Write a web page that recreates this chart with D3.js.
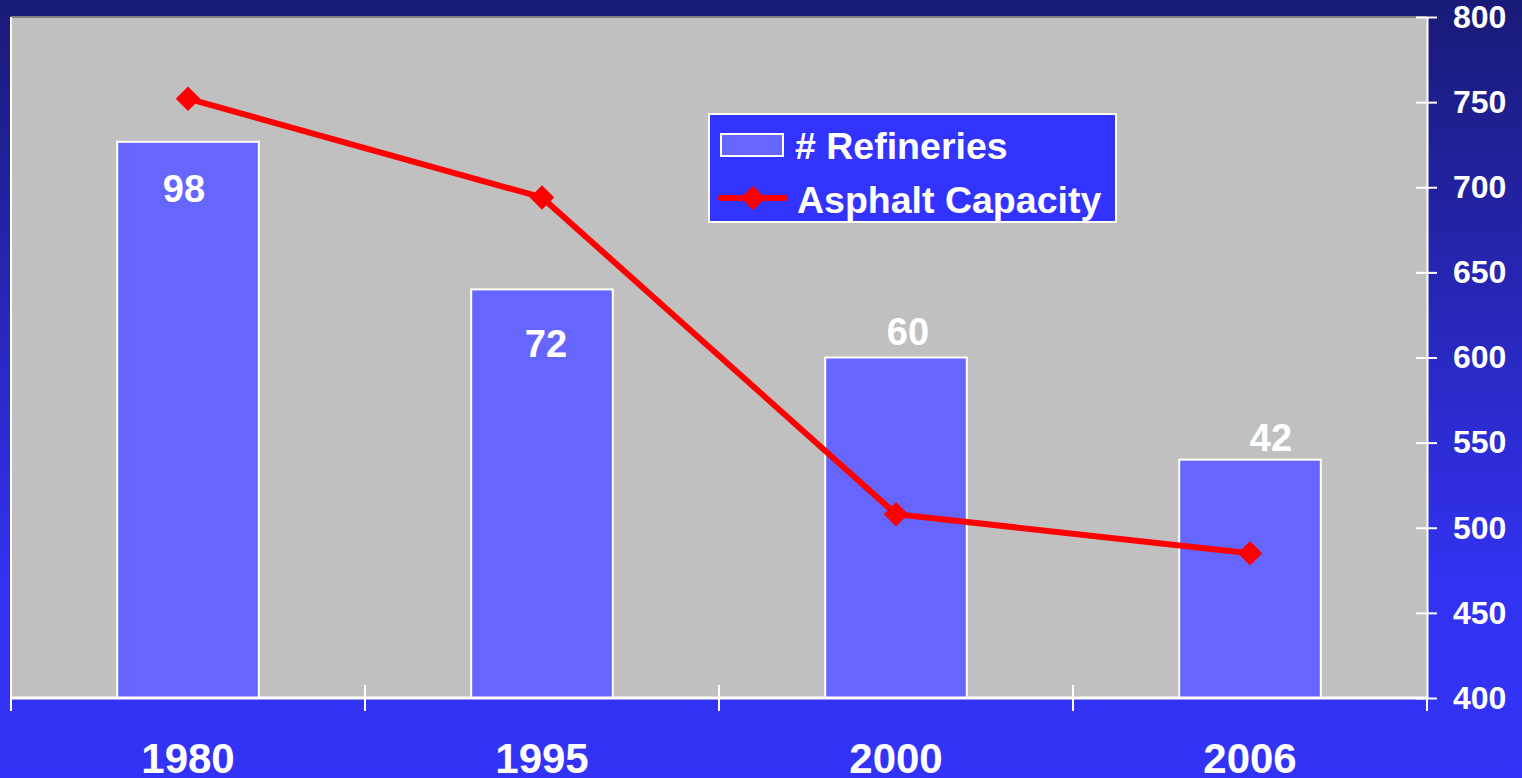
<!DOCTYPE html>
<html>
<head>
  <title>Refineries and Asphalt Capacity</title>
  <script src="https://d3js.org/d3.v7.min.js"></script>
  <style>
    html, body {
      margin: 0;
      padding: 0;
      overflow: hidden;
    }
    svg {
      display: block;
      font-family: Arial, "Liberation Sans", sans-serif;
      font-weight: bold;
    }
  </style>
</head>
<body>
  <svg></svg>
  <script>
    // chart data
    var years = ["1980", "1995", "2000", "2006"];
    var refineries = [98, 72, 60, 42];
    var asphaltCapacity = [752, 694, 508, 485];
    var capacityTicks = [400, 450, 500, 550, 600, 650, 700, 750, 800];
    // hand-placed label nudges (px), as in the original slide
    var labelDx = [-4, 4, 12, 21];
    var labelDy = [60, 68, -13, -9];

    var width = 1522, height = 778;
    var plotLeft = 11, plotRight = 1427, plotTop = 17, plotBottom = 698;

    var svg = d3.select("svg").attr("width", width).attr("height", height);

    // background gradient
    var defs = svg.append("defs");
    var grad = defs.append("linearGradient")
        .attr("id", "bg").attr("x1", 0).attr("y1", 0).attr("x2", 0).attr("y2", 1);
    grad.append("stop").attr("offset", "0%").attr("stop-color", "#1a1a78");
    grad.append("stop").attr("offset", "75%").attr("stop-color", "#3232f2");
    grad.append("stop").attr("offset", "100%").attr("stop-color", "#3333f7");
    svg.append("rect").attr("width", width).attr("height", height).attr("fill", "url(#bg)");

    var x = d3.scaleBand().domain(years).range([plotLeft, plotRight]);
    var yBar = d3.scaleLinear().domain([0, 120]).range([plotBottom, plotTop]);
    var yCap = d3.scaleLinear().domain([400, 800]).range([plotBottom, plotTop]);

    // plot area
    svg.append("rect")
        .attr("x", plotLeft).attr("y", plotTop)
        .attr("width", plotRight - plotLeft).attr("height", plotBottom - plotTop)
        .attr("fill", "#c0c0c0");
    svg.append("line")
        .attr("x1", plotLeft).attr("x2", plotRight).attr("y1", plotTop).attr("y2", plotTop)
        .attr("stroke", "#808080").attr("stroke-width", 2);
    svg.append("line")
        .attr("x1", plotLeft).attr("x2", plotLeft).attr("y1", plotTop).attr("y2", plotBottom)
        .attr("stroke", "#fff").attr("stroke-width", 2);

    // bars
    var bw = x.bandwidth() * 0.4;
    svg.append("g")
        .selectAll("rect")
        .data(refineries)
        .join("rect")
        .attr("x", (d, i) => x(years[i]) + x.bandwidth() / 2 - bw / 2)
        .attr("y", d => yBar(d))
        .attr("width", bw)
        .attr("height", d => plotBottom - yBar(d))
        .attr("fill", "#6666ff")
        .attr("stroke", "#fff")
        .attr("stroke-width", 2);

    // bar labels
    svg.append("g")
        .selectAll("text")
        .data(refineries)
        .join("text")
        .attr("x", (d, i) => x(years[i]) + x.bandwidth() / 2 + labelDx[i])
        .attr("y", (d, i) => yBar(d) + labelDy[i])
        .attr("text-anchor", "middle")
        .attr("fill", "#fff")
        .attr("font-size", 38)
        .text(d => d);

    // bottom axis
    var xAxis = svg.append("g").attr("transform", "translate(0," + plotBottom + ")");
    xAxis.append("line").attr("x1", plotLeft).attr("x2", plotRight)
        .attr("stroke", "#fff").attr("stroke-width", 3);
    var bounds = years.map(d => x(d)).concat([plotRight]);
    xAxis.selectAll(".tk")
        .data(bounds)
        .join("line")
        .attr("x1", d => d).attr("x2", d => d)
        .attr("y1", (d, i) => (i === 0 || i === bounds.length - 1) ? 0 : -13)
        .attr("y2", 13)
        .attr("stroke", "#fff").attr("stroke-width", 2);
    xAxis.selectAll("text")
        .data(years)
        .join("text")
        .attr("x", d => x(d) + x.bandwidth() / 2)
        .attr("y", 75)
        .attr("text-anchor", "middle")
        .attr("fill", "#fff")
        .attr("font-size", 42)
        .text(d => d);

    // right axis
    var yAxis = svg.append("g")
        .attr("transform", "translate(" + plotRight + ",0)")
        .call(d3.axisRight(yCap).tickValues(capacityTicks).tickSize(0).tickPadding(26));
    yAxis.select(".domain").attr("stroke", "#fff").attr("stroke-width", 2);
    yAxis.selectAll(".tick text")
        .attr("fill", "#fff")
        .attr("font-size", 32)
        .attr("font-weight", "bold")
        .attr("font-family", "Arial, 'Liberation Sans', sans-serif");
    yAxis.selectAll(".tick").append("line")
        .attr("x1", -11).attr("x2", 10)
        .attr("stroke", "#fff").attr("stroke-width", 2);

    // capacity line
    var line = d3.line()
        .x((d, i) => x(years[i]) + x.bandwidth() / 2)
        .y(d => yCap(d));
    svg.append("path")
        .datum(asphaltCapacity)
        .attr("d", line)
        .attr("fill", "none")
        .attr("stroke", "#ff0000")
        .attr("stroke-width", 6);
    var diamond = d3.symbol().type(d3.symbolSquare).size(300);
    svg.append("g")
        .selectAll("path")
        .data(asphaltCapacity)
        .join("path")
        .attr("d", diamond)
        .attr("transform", (d, i) => "translate(" + (x(years[i]) + x.bandwidth() / 2) + "," + yCap(d) + ") rotate(45)")
        .attr("fill", "#ff0000");

    // legend
    var legend = svg.append("g").attr("transform", "translate(709,114)");
    legend.append("rect")
        .attr("width", 407).attr("height", 108)
        .attr("fill", "#3333ff")
        .attr("stroke", "#fff").attr("stroke-width", 2);
    legend.append("rect")
        .attr("x", 12).attr("y", 20).attr("width", 62).attr("height", 22)
        .attr("fill", "#6666ff").attr("stroke", "#fff").attr("stroke-width", 2);
    legend.append("text")
        .attr("x", 86).attr("y", 45)
        .attr("fill", "#fff").attr("font-size", 37.5)
        .text("# Refineries");
    legend.append("line")
        .attr("x1", 12).attr("x2", 76).attr("y1", 84).attr("y2", 84)
        .attr("stroke", "#ff0000").attr("stroke-width", 6).attr("stroke-linecap", "round");
    legend.append("path")
        .attr("d", diamond)
        .attr("transform", "translate(44,84) rotate(45)")
        .attr("fill", "#ff0000");
    legend.append("text")
        .attr("x", 88).attr("y", 99)
        .attr("fill", "#fff").attr("font-size", 37.5)
        .text("Asphalt Capacity");
  </script>
</body>
</html>
